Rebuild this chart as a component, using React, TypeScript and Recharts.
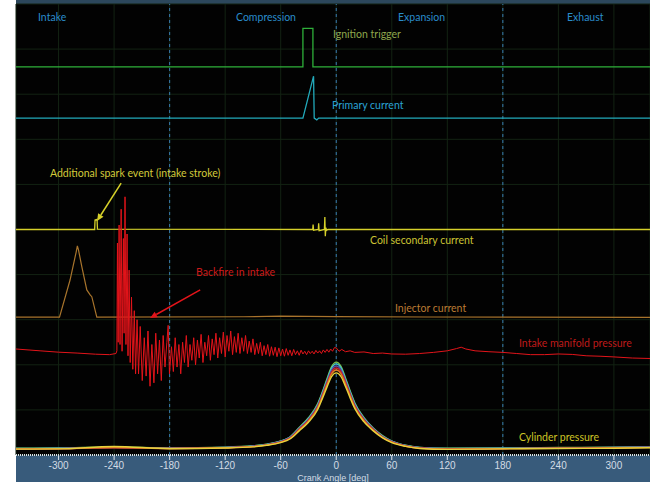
import { LineChart, Line, XAxis, YAxis, CartesianGrid, ReferenceLine } from 'recharts'

// crank angle in degrees, trace level in screen divisions (0 = bottom, 20 = top)
const crankTicks = [-300, -240, -180, -120, -60, 0, 60, 120, 180, 240, 300]
const strokeBoundaries = [-180, 0, 180]
const divisionTicks = [0, 1, 2, 3, 4, 5, 6, 7, 8, 9, 10, 11, 12, 13, 14, 15, 16, 17, 18, 19, 20]

const ignitionTrigger: [number, number][] = [
  [-346, 17.21], [-36, 17.21], [-36, 18.92], [-25.2, 18.92], [-25.2, 17.21], [339, 17.21],
]

const primaryCurrent: [number, number][] = [
  [-346, 14.94], [-36, 14.94], [-24.5, 16.8], [-23.8, 14.94], [-21, 14.86], [-19, 14.94], [339, 14.94],
]

const coilSecondary: [number, number][] = [
  [-346, 10.0], [-261, 10.0], [-260.6, 10.42], [-258.4, 10.45], [-258, 10.02], [-30, 10.0],
  [-25.4, 10.0], [-25, 10.22], [-24.5, 9.97], [-19.4, 10.0], [-19, 10.28], [-18.5, 9.95],
  [-12.8, 10.0], [-12.3, 10.55], [-11.8, 9.7], [-11.2, 10.08], [-10.5, 9.96], [-9, 10.0], [339, 10.0],
]

const injectorCurrent: [number, number][] = [
  [-346, 6.11], [-299, 6.11], [-287.6, 7.76], [-281, 9.0], [-279.7, 9.27], [-278.5, 9.1],
  [-274.9, 8.35], [-269.5, 7.32], [-265.9, 7.1], [-264.1, 7.02], [-258.7, 6.11],
  [-100, 6.13], [-60, 6.16], [0, 6.14], [100, 6.12], [339, 6.1],
]

const manifoldPressure: [number, number][] = [
  [-346, 4.7], [-320, 4.62], [-300, 4.56], [-280, 4.52], [-260, 4.47], [-245, 4.45], [-238, 4.5], [-237, 4.62],
  [-236.4, 9.4], [-235.6, 5.0], [-234.6, 10.2], [-233.6, 4.9], [-232.4, 10.9], [-231.4, 4.6], [-230, 9.6],
  [-229.2, 5.4], [-228.2, 11.45], [-227.2, 4.9], [-226, 9.8], [-225, 4.4], [-223.8, 8.2], [-222.6, 4.1],
  [-221.2, 7.0], [-219.8, 3.8], [-218.2, 6.4], [-216.8, 3.6], [-215.2, 6.0], [-213.6, 3.6], [-211.8, 5.7],
  [-209.6, 3.3], [-207.4, 5.2], [-205.4, 3.5], [-203.4, 5.5], [-201.2, 3.05], [-199.2, 4.9], [-197, 3.2],
  [-195, 5.4], [-193, 3.6], [-191, 5.1], [-189, 3.3], [-187, 5.3], [-185, 3.9], [-183, 5.0], [-181.6, 5.75],
  [-180.2, 3.6], [-178, 4.8], [-176, 3.7], [-174, 5.2], [-172, 3.9], [-170, 4.9], [-168, 3.6], [-166, 5.0],
  [-164, 4.1], [-162, 5.3], [-160, 3.9], [-158, 4.9], [-156, 4.2], [-154, 5.2], [-152, 4.0], [-150, 5.1],
  [-148, 4.3], [-146, 5.35], [-144, 4.1], [-142, 5.0], [-140, 4.4], [-138, 5.3], [-136, 4.2], [-134, 5.15],
  [-132, 4.45], [-130, 5.4], [-128, 4.3], [-126, 5.2], [-124, 4.5], [-122, 5.45], [-120, 4.35], [-118, 5.3],
  [-116, 4.6], [-114, 5.5], [-112, 4.45], [-110, 5.25], [-108, 4.55], [-106, 5.4], [-104, 4.5], [-102, 5.2],
  [-100, 4.6], [-98, 5.3], [-96, 4.5], [-94, 5.05], [-92, 4.55], [-90, 5.15], [-88, 4.45], [-86, 4.95],
  [-84, 4.5], [-82, 5.0], [-80, 4.4], [-78, 4.85], [-76, 4.45], [-74, 4.9], [-72, 4.38], [-70, 4.8],
  [-68, 4.42], [-66, 4.78], [-64, 4.36], [-62, 4.75], [-60, 4.4], [-58, 4.7], [-56, 4.38], [-54, 4.72],
  [-52, 4.42], [-50, 4.66], [-48, 4.4], [-46, 4.68], [-44, 4.45], [-42, 4.62], [-40, 4.42], [-38, 4.65],
  [-36, 4.48], [-34, 4.6], [-32, 4.45], [-30, 4.62], [-28, 4.5], [-26, 4.6], [-24, 4.48], [-22, 4.64],
  [-20, 4.52], [-18, 4.62], [-16, 4.5], [-14, 4.66], [-12, 4.55], [-10, 4.68], [-8, 4.56], [-6, 4.7],
  [-4, 4.6], [-2, 4.76], [0, 4.75],
  [3, 4.6], [6, 4.68], [10, 4.58], [15, 4.62], [20, 4.55], [30, 4.57], [40, 4.5], [50, 4.52], [60, 4.48],
  [75, 4.47], [90, 4.5], [105, 4.55], [120, 4.62], [130, 4.72], [135, 4.78], [140, 4.7], [150, 4.62],
  [165, 4.58], [180, 4.55], [195, 4.5], [210, 4.45], [225, 4.45], [240, 4.48], [255, 4.46], [270, 4.4],
  [285, 4.38], [300, 4.35], [320, 4.3], [339, 4.28],
]

const cylinderDeg = [-346, -300, -240, -180, -120, -90, -75, -60, -50, -40, -30, -20, -15, -10, -5, 0, 5, 10, 15, 20, 30, 40, 50, 60, 75, 90, 120, 180, 240, 300, 339]
const cylinderCycle1 = [0.3, 0.31, 0.36, 0.32, 0.35, 0.41, 0.48, 0.62, 0.8, 1.22, 1.65, 2.28, 2.8, 3.38, 3.92, 4.12, 3.94, 3.42, 2.85, 2.32, 1.66, 1.2, 0.86, 0.62, 0.43, 0.34, 0.3, 0.31, 0.33, 0.35, 0.37]
const cylinderCycle2 = [0.29, 0.3, 0.34, 0.31, 0.34, 0.4, 0.47, 0.61, 0.79, 1.2, 1.62, 2.24, 2.76, 3.32, 3.85, 4.04, 3.87, 3.36, 2.8, 2.28, 1.63, 1.18, 0.84, 0.61, 0.42, 0.33, 0.29, 0.3, 0.32, 0.34, 0.36]
const cylinderCycle3 = [0.28, 0.29, 0.33, 0.3, 0.33, 0.39, 0.46, 0.6, 0.77, 1.17, 1.58, 2.19, 2.7, 3.25, 3.77, 3.95, 3.79, 3.29, 2.74, 2.23, 1.6, 1.16, 0.82, 0.6, 0.41, 0.32, 0.28, 0.29, 0.31, 0.33, 0.35]
const cylinderCycle4 = [0.27, 0.28, 0.32, 0.29, 0.32, 0.38, 0.45, 0.58, 0.75, 1.14, 1.54, 2.14, 2.64, 3.18, 3.68, 3.86, 3.7, 3.22, 2.68, 2.18, 1.56, 1.13, 0.8, 0.58, 0.4, 0.31, 0.27, 0.28, 0.3, 0.32, 0.34]
const cylinderCycle5 = [0.27, 0.28, 0.33, 0.29, 0.32, 0.37, 0.44, 0.57, 0.73, 1.11, 1.5, 2.09, 2.58, 3.11, 3.6, 3.77, 3.61, 3.14, 2.62, 2.13, 1.52, 1.1, 0.78, 0.57, 0.39, 0.3, 0.26, 0.28, 0.3, 0.31, 0.33]
const cylinderCycle6 = [0.26, 0.27, 0.38, 0.28, 0.31, 0.36, 0.43, 0.55, 0.71, 1.07, 1.45, 2.02, 2.5, 3.01, 3.48, 3.64, 3.49, 3.04, 2.53, 2.06, 1.47, 1.07, 0.76, 0.55, 0.38, 0.29, 0.25, 0.27, 0.29, 0.3, 0.32]

const cylinderCycles = [
  { values: cylinderCycle1, color: '#7cc04a' },
  { values: cylinderCycle2, color: '#3fc3cf' },
  { values: cylinderCycle3, color: '#5a4fa6' },
  { values: cylinderCycle4, color: '#c8202c' },
  { values: cylinderCycle5, color: '#e07a22' },
  { values: cylinderCycle6, color: '#e6d23c' },
]

const toPoints = (pairs: [number, number][]) => pairs.map(([deg, div]) => ({ deg, div }))
const cyclePoints = (values: number[]) => cylinderDeg.map((deg, i) => ({ deg, div: values[i] }))

const labelFont = 'Lato, "Open Sans", sans-serif'

const annotations = [
  { text: 'Intake', left: 38, top: 17, color: '#2a8ccb' },
  { text: 'Compression', left: 236, top: 17, color: '#2a8ccb' },
  { text: 'Expansion', left: 398, top: 17, color: '#2a8ccb' },
  { text: 'Exhaust', left: 567, top: 17, color: '#2a8ccb' },
  { text: 'Ignition trigger', left: 333, top: 34, color: '#8ea64c' },
  { text: 'Primary current', left: 332, top: 105, color: '#2aa2d4' },
  { text: 'Additional spark event (intake stroke)', left: 50, top: 173, color: '#d2ca3a' },
  { text: 'Coil secondary current', left: 370, top: 240, color: '#cbc233' },
  { text: 'Backfire in intake', left: 196, top: 272, color: '#cc1a1a' },
  { text: 'Injector current', left: 395, top: 308, color: '#bb7a32' },
  { text: 'Intake manifold pressure', left: 519, top: 343, color: '#bf1a1a' },
  { text: 'Cylinder pressure', left: 519, top: 437, color: '#cdc426' },
]

const Arrow = (props: any) => {
  const { x1, y1, x2, y2, stroke } = props
  const ang = Math.atan2(y2 - y1, x2 - x1)
  const len = 7
  const half = 3.2
  const bx = x2 - len * Math.cos(ang)
  const by = y2 - len * Math.sin(ang)
  const pts = `${x2},${y2} ${bx - half * Math.sin(ang)},${by + half * Math.cos(ang)} ${bx + half * Math.sin(ang)},${by - half * Math.cos(ang)}`
  return (
    <g>
      <line x1={x1} y1={y1} x2={bx} y2={by} stroke={stroke} strokeWidth={1.5} />
      <polygon points={pts} fill={stroke} />
    </g>
  )
}

export default function App() {
  return (
    <div style={{ position: 'absolute', left: 0, top: 0, width: 650, height: 482, background: '#fff', overflow: 'hidden' }}>
      <div style={{ position: 'absolute', left: 16, top: 0, width: 634, height: 4, background: '#2c475c' }} />
      <div style={{ position: 'absolute', left: 16, top: 455, width: 634, height: 27, background: '#385b7b' }} />
      <div style={{ position: 'absolute', left: 0, top: 0 }}>
        <LineChart width={650} height={482} margin={{ top: 4, right: 0, bottom: 0, left: 16 }}>
          <CartesianGrid fill="#020202" stroke="#132313" strokeWidth={1} />
          <XAxis
            dataKey="deg"
            type="number"
            domain={[-346, 339]}
            allowDataOverflow
            ticks={crankTicks}
            height={27}
            tickSize={5}
            tickMargin={2}
            tick={{ fill: '#d3dbe5', fontSize: 10, fontFamily: '"Liberation Sans", Arial, sans-serif' }}
            tickLine={{ stroke: '#d8e0e8' }}
            axisLine={{ stroke: '#d8e0e8', strokeWidth: 2, strokeDasharray: '1 1' }}
            label={{ value: 'Crank Angle [deg]', position: 'insideBottom', offset: 1, fill: '#d3dbe5', fontSize: 9, fontFamily: '"Liberation Sans", Arial, sans-serif' }}
          />
          <YAxis hide type="number" domain={[0, 20]} ticks={divisionTicks} />
          {strokeBoundaries.map((b) => (
            <ReferenceLine key={b} x={b} stroke="#3a7cb2" strokeDasharray="3 3" />
          ))}
          <Line data={toPoints(ignitionTrigger)} dataKey="div" type="linear" stroke="#2fb03a" strokeWidth={1.3} dot={false} isAnimationActive={false} />
          <Line data={toPoints(primaryCurrent)} dataKey="div" type="linear" stroke="#22aabb" strokeWidth={1.3} dot={false} isAnimationActive={false} />
          <Line data={toPoints(coilSecondary)} dataKey="div" type="linear" stroke="#d6d02a" strokeWidth={1.3} dot={false} isAnimationActive={false} />
          <Line data={toPoints(injectorCurrent)} dataKey="div" type="linear" stroke="#a8742c" strokeWidth={1.2} dot={false} isAnimationActive={false} />
          {cylinderCycles.map((c, i) => (
            <Line key={i} data={cyclePoints(c.values)} dataKey="div" type="monotone" stroke={c.color} strokeWidth={1.4} dot={false} isAnimationActive={false} />
          ))}
          <Line data={toPoints(manifoldPressure)} dataKey="div" type="linear" stroke="#e3141a" strokeWidth={1} dot={false} isAnimationActive={false} />
          <ReferenceLine segment={[{ x: -232.4, y: 12.06 }, { x: -258.4, y: 10.38 }]} stroke="#d6d02a" shape={Arrow} />
          <ReferenceLine segment={[{ x: -147, y: 7.32 }, { x: -201.1, y: 6.08 }]} stroke="#e3141a" shape={Arrow} />
        </LineChart>
      </div>
      {annotations.map((a) => (
        <div
          key={a.text}
          style={{
            position: 'absolute',
            left: a.left,
            top: a.top - 7,
            lineHeight: '14px',
            fontSize: 10.5,
            fontFamily: labelFont,
            color: a.color,
            whiteSpace: 'nowrap',
          }}
        >
          {a.text}
        </div>
      ))}
    </div>
  )
}
